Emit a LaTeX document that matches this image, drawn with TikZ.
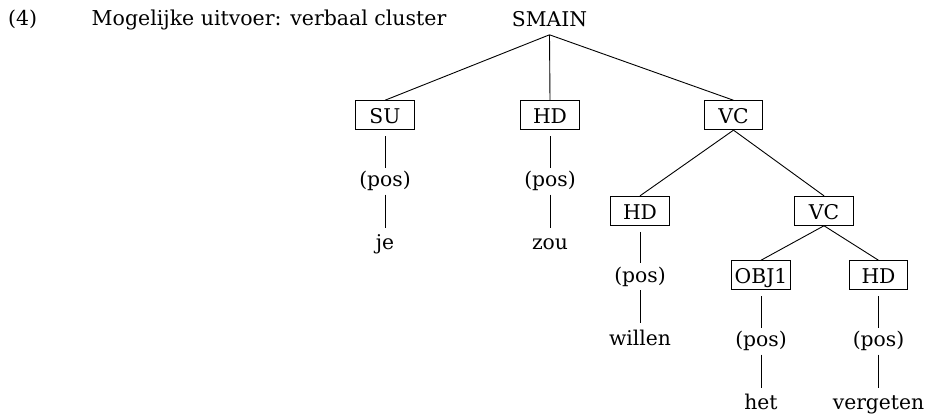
\documentclass[tikz,border=0pt]{standalone}
\usepackage{fontspec}
\setmainfont{DejaVu Serif}
\begin{document}
\begin{tikzpicture}[x=1pt,y=-1pt,
  every node/.style={font=\fontsize{20.3}{24}\selectfont, inner sep=0pt},
  heading/.style={anchor=base west, font=\fontsize{20.5}{24}\selectfont},
  tbox/.style={draw, line width=0.9pt, minimum width=58.7pt, minimum height=29pt,
    text height=16.6pt, text depth=0pt, anchor=center},
  poslbl/.style={anchor=base, text height=15.7pt, text depth=4.7pt, inner ysep=3pt},
  word/.style={anchor=base, text height=14.5pt, text depth=0pt, inner ysep=7.5pt},
  edge/.style={line width=0.9pt},
  stem/.style={line width=0.9pt, shorten <=6pt}]
\useasboundingbox (0,0) rectangle (930,413);

% heading
\node[heading] (num) at (8,25.5) {(4)};
\node[heading] (title) at (91.5,25.5) {Mogelijke uitvoer: verbaal cluster};

% root
\node[anchor=base, inner ysep=7.8pt] (smain) at (549.5,26.5) {SMAIN};

% first level
\node[tbox] (su) at (385,115.2) {SU};
\node[tbox] (hd) at (550,115.2) {HD};
\node[tbox] (vc) at (733.5,115.2) {VC};

% second level
\node[tbox] (hdb) at (640,210.8) {HD};
\node[tbox] (vcb) at (824,210.8) {VC};

% third level
\node[tbox] (obj) at (761,275.2) {OBJ1};
\node[tbox] (hdc) at (878.5,275.2) {HD};

% part-of-speech slots and words
\node[poslbl] (psu) at (385,186.7) {(pos)};
\node[word] (wsu) at (385,249.7) {je};
\node[poslbl] (phd) at (550,186.7) {(pos)};
\node[word] (whd) at (550,249.7) {zou};
\node[poslbl] (phdb) at (640,282.3) {(pos)};
\node[word] (whdb) at (640,345.3) {willen};
\node[poslbl] (pobj) at (761,346.7) {(pos)};
\node[word] (wobj) at (761,409.7) {het};
\node[poslbl] (phdc) at (878.5,346.7) {(pos)};
\node[word] (whdc) at (878.5,409.7) {vergeten};

% tree edges
\draw[edge] (smain.south) -- (su.north);
\draw[edge] (smain.south) -- (hd.north);
\draw[edge] (smain.south) -- (vc.north);
\draw[edge] (vc.south) -- (hdb.north);
\draw[edge] (vc.south) -- (vcb.north);
\draw[edge] (vcb.south) -- (obj.north);
\draw[edge] (vcb.south) -- (hdc.north);

% stems down to the words
\foreach \b/\p/\w in {su/psu/wsu, hd/phd/whd, hdb/phdb/whdb, obj/pobj/wobj, hdc/phdc/whdc}{
  \draw[stem] (\b.south) -- (\p.north);
  \draw[edge] (\p.south) -- (\w.north);
}
\end{tikzpicture}
\end{document}
